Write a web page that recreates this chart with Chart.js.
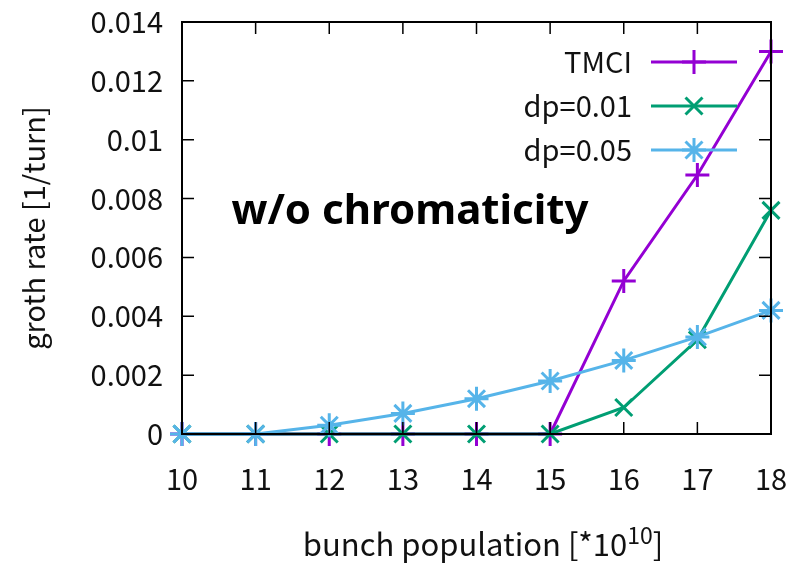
<!DOCTYPE html>
<html>
<head>
<meta charset="utf-8">
<script src="https://cdn.jsdelivr.net/npm/chart.js@4.4.1/dist/chart.umd.min.js"></script>
<style>
  html, body { margin: 0; padding: 0; background: #fff; }
  canvas { display: block; }
</style>
</head>
<body>
<canvas id="chart" width="792" height="564"></canvas>
<script>
const population = [10, 11, 12, 13, 14, 15, 16, 17, 18];
const tmci = [0, 0, 0, 0, 0, 0, 0.0052, 0.0088, 0.013];
const dp001 = [0, 0, 0, 0, 0, 0, 0.0009, 0.0032, 0.0076];
const dp005 = [0, 0, 0.0003, 0.0007, 0.0012, 0.0018, 0.0025, 0.0033, 0.0042];
const seriesNames = ['TMCI', 'dp=0.01', 'dp=0.05'];
const yTicks = [0, 0.002, 0.004, 0.006, 0.008, 0.01, 0.012, 0.014];
const noteText = 'w/o chromaticity';
const xTitle = ['bunch population [*10', '10', ']'];

const FONT = "'Noto Sans CJK JP', 'Noto Sans', sans-serif";
const BOLD = "'Noto Sans', sans-serif";

function toPoints(ys) {
    return population.map((x, i) => ({ x, y: ys[i] }));
}

function series(label, ys, color, style, order) {
    return {
        label,
        data: toPoints(ys),
        borderColor: color,
        backgroundColor: color,
        borderWidth: 3,
        pointStyle: style,
        pointRadius: 12,
        pointHoverRadius: 12,
        pointBorderWidth: 3,
        tension: 0,
        clip: false,
        order
    };
}

// gnuplot-like frame, inward ticks on all sides, legend, note, x title
const framePlugin = {
    id: 'frame',
    afterDatasetsDraw(chart) {
        const { ctx, chartArea: a, scales } = chart;
        ctx.save();
        ctx.strokeStyle = '#000';
        ctx.lineWidth = 2;
        ctx.strokeRect(a.left, a.top, a.right - a.left, a.bottom - a.top);
        ctx.lineWidth = 1.5;
        const t = 12;
        ctx.beginPath();
        population.forEach(v => {
            const px = scales.x.getPixelForValue(v);
            ctx.moveTo(px, a.bottom); ctx.lineTo(px, a.bottom - t);
            ctx.moveTo(px, a.top); ctx.lineTo(px, a.top + t);
        });
        yTicks.forEach(v => {
            const py = scales.y.getPixelForValue(v);
            ctx.moveTo(a.left, py); ctx.lineTo(a.left + t, py);
            ctx.moveTo(a.right, py); ctx.lineTo(a.right - t, py);
        });
        ctx.stroke();

        // legend: text right aligned, then line sample with marker
        const textRight = 632, lineL = 651, lineR = 737;
        const rows = [62, 106, 150];
        ctx.font = '29px ' + FONT;
        ctx.textAlign = 'right';
        ctx.textBaseline = 'middle';
        chart.data.datasets.forEach((ds, i) => {
            const y = rows[i];
            ctx.fillStyle = '#111';
            ctx.fillText(ds.label, textRight, y);
            ctx.strokeStyle = ds.borderColor;
            ctx.lineWidth = 3;
            ctx.beginPath();
            ctx.moveTo(lineL, y); ctx.lineTo(lineR, y);
            ctx.stroke();
            Chart.helpers.drawPoint(ctx, {
                pointStyle: ds.pointStyle,
                radius: 12,
                borderWidth: 3,
                rotation: 0
            }, (lineL + lineR) / 2, y);
        });

        ctx.font = 'bold 42px ' + BOLD;
        ctx.textAlign = 'center';
        ctx.fillStyle = '#000';
        ctx.fillText(noteText, 410, 212);

        // x axis title with a real superscript
        ctx.textAlign = 'left';
        ctx.textBaseline = 'alphabetic';
        ctx.fillStyle = '#111';
        ctx.font = '31px ' + FONT;
        const w0 = ctx.measureText(xTitle[0]).width;
        const w2 = ctx.measureText(xTitle[2]).width;
        ctx.font = '23px ' + FONT;
        const w1 = ctx.measureText(xTitle[1]).width;
        let x = 483 - (w0 + w1 + w2) / 2;
        const base = 556;
        ctx.font = '31px ' + FONT;
        ctx.fillText(xTitle[0], x, base);
        ctx.font = '23px ' + FONT;
        ctx.fillText(xTitle[1], x + w0, base - 12);
        ctx.font = '31px ' + FONT;
        ctx.fillText(xTitle[2], x + w0 + w1, base);
        ctx.restore();
    }
};

new Chart(document.getElementById('chart'), {
    type: 'line',
    data: {
        datasets: [
            series(seriesNames[0], tmci, '#9400d3', 'cross', 3),
            series(seriesNames[1], dp001, '#009e73', 'crossRot', 2),
            series(seriesNames[2], dp005, '#56b4e9', 'star', 1)
        ]
    },
    options: {
        responsive: false,
        animation: false,
        events: [],
        layout: { padding: { left: 17, right: 21, top: 22, bottom: 0 } },
        plugins: {
            legend: { display: false },
            tooltip: { enabled: false }
        },
        scales: {
            x: {
                type: 'linear',
                min: 10,
                max: 18,
                grid: { display: false, drawTicks: false },
                border: { display: false },
                afterFit: s => { s.height = 130; s.paddingLeft = 0; s.paddingRight = 0; },
                afterBuildTicks: s => { s.ticks = population.map(v => ({ value: v })); },
                ticks: {
                    padding: 28,
                    color: '#111',
                    font: { family: FONT, size: 29 }
                },
                title: { display: false }
            },
            y: {
                min: 0,
                max: 0.014,
                grid: { display: false, drawTicks: false },
                border: { display: false },
                afterFit: s => { s.width = 165; s.paddingTop = 0; s.paddingBottom = 0; },
                afterBuildTicks: s => { s.ticks = yTicks.map(v => ({ value: v })); },
                ticks: {
                    padding: 19,
                    color: '#111',
                    font: { family: FONT, size: 29 },
                    callback: v => String(+v.toFixed(3))
                },
                title: {
                    display: true,
                    text: 'groth rate [1/turn]',
                    color: '#111',
                    padding: 0,
                    font: { family: FONT, size: 29 }
                }
            }
        }
    },
    plugins: [framePlugin]
});
</script>
</body>
</html>
